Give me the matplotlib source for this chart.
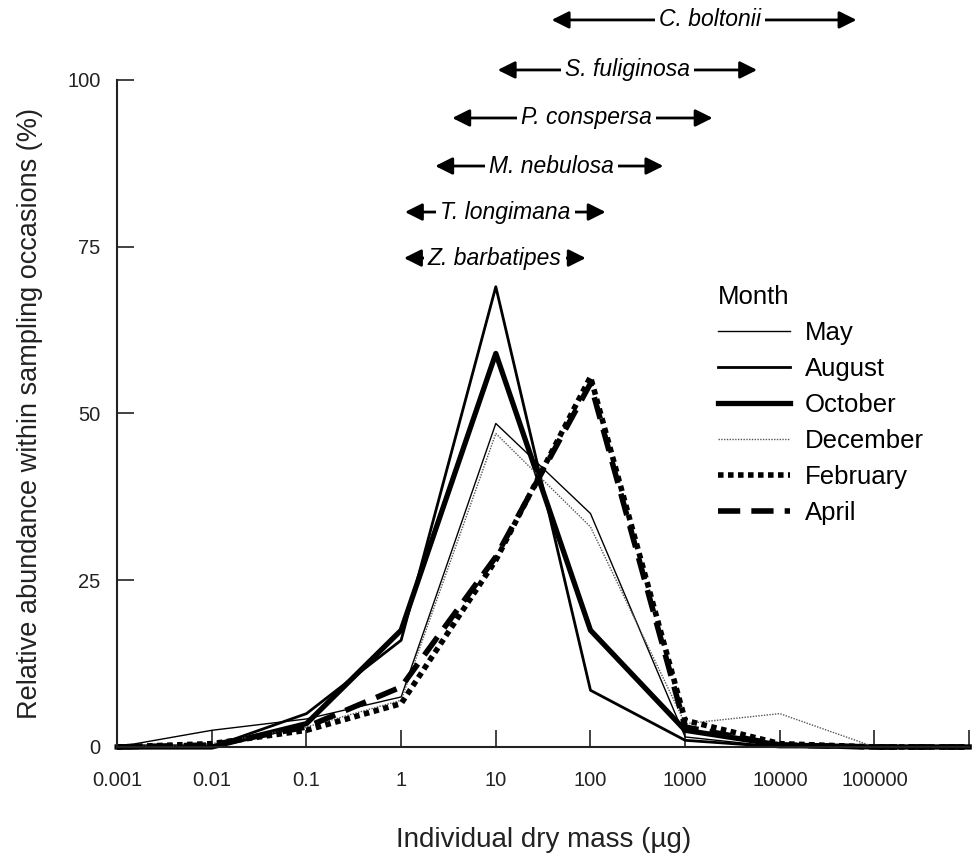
import numpy as np
import matplotlib.pyplot as plt

plt.rcParams['font.family'] = ['Liberation Sans', 'DejaVu Sans']

# size classes (individual dry mass, ug)
mass = [0.001, 0.01, 0.1, 1, 10, 100, 1000, 10000, 100000, 1000000]
tick_labels = ['0.001', '0.01', '0.1', '1', '10', '100', '1000', '10000', '100000', '']

# relative abundance (%) per month
may = [0, 2.5, 4.2, 7.5, 48.5, 35, 1.5, 0, 0, 0]
august = [0, 0, 5, 16, 69, 8.5, 1, 0, 0, 0]
october = [0, 0, 3.5, 17.5, 59, 17.5, 2.5, 0.3, 0, 0]
december = [0, 0.5, 3, 7, 47, 33, 3.5, 5, 0, 0]
february = [0, 0.5, 2.5, 6.5, 28, 55.5, 4, 0.5, 0, 0]
april = [0, 0.3, 3, 9, 28.5, 54.5, 3, 0.3, 0, 0]

# species size ranges (log10 ug) drawn as arrows above the curves
species = ['C. boltonii', 'S. fuliginosa', 'P. conspersa', 'M. nebulosa',
           'T. longimana', 'Z. barbatipes']
range_lo = [1.59, 1.02, 0.54, 0.36, 0.04, 0.03]
range_hi = [4.81, 3.76, 3.29, 2.77, 2.16, 1.95]
label_at = [3.26, 2.39, 1.96, 1.59, 1.10, 0.99]
row_y = [109, 101.5, 94.3, 87.1, 80.2, 73.3]

fig = plt.figure(figsize=(9.76, 8.58), dpi=100)
ax = fig.add_axes([0.12, 0.1294, 0.873, 0.7774])

series = [
    ('May', may, dict(lw=1.0, ls='-')),
    ('August', august, dict(lw=2.0, ls='-')),
    ('October', october, dict(lw=3.8, ls='-')),
    ('December', december, dict(lw=1.0, ls=(0, (1, 1)), color='#555555')),
    ('February', february, dict(lw=4.0, ls=(0, (1, 0.8)))),
    ('April', april, dict(lw=4.0, ls=(0, (4, 2)))),
]
handles = []
for name, vals, style in series:
    kw = dict(color='black')
    kw.update(style)
    line, = ax.plot(mass, vals, label=name, clip_on=False, **kw)
    handles.append(line)

ax.set_xscale('log')
ax.set_xlim(0.001, 1e6)
ax.set_ylim(0, 100)
ax.set_xticks(mass)
ax.set_xticklabels(tick_labels)
ax.minorticks_off()
ax.set_yticks([0, 25, 50, 75, 100])

for s in ['top', 'right']:
    ax.spines[s].set_visible(False)
for s in ['left', 'bottom']:
    ax.spines[s].set_linewidth(1.5)
    ax.spines[s].set_color('#222222')
ax.tick_params(direction='in', length=12, width=1.2, labelsize=14.5, pad=17,
               color='#222222', labelcolor='#222222')
ax.tick_params(axis='y', pad=12)

ax.set_xlabel('Individual dry mass (µg)', fontsize=20, labelpad=27, color='#222222')
ax.set_ylabel('Relative abundance within sampling occasions (%)', fontsize=19.5,
              labelpad=17, color='#222222')

# species range arrows
for name, lo, hi, mid, y in zip(species, range_lo, range_hi, label_at, row_y):
    ax.annotate('', xy=(10 ** lo, y), xytext=(10 ** hi, y), xycoords='data',
                annotation_clip=False,
                arrowprops=dict(arrowstyle='<|-|>', color='black', lw=2,
                                mutation_scale=26, shrinkA=0, shrinkB=0))
    ax.text(10 ** mid, y, name, style='italic', fontsize=16.5, ha='center',
            va='center', clip_on=False,
            bbox=dict(facecolor='white', edgecolor='none', pad=3))

leg = ax.legend(handles=handles, title='Month', loc='upper left',
                bbox_to_anchor=(0.69, 0.712), frameon=False, fontsize=18.5,
                title_fontsize=18.5, handlelength=2.8, handletextpad=0.6,
                labelspacing=0.47, borderpad=0)
leg._legend_box.align = 'left'

fig.savefig('out.png', dpi=100)
